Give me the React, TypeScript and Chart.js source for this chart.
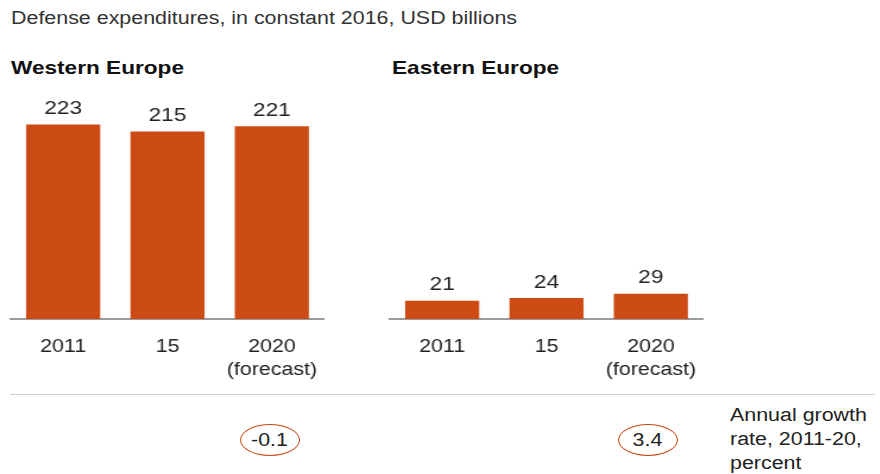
import React, { useEffect, useRef } from "react";
import { Chart, registerables } from "chart.js";

Chart.register(...registerables);

const categories: (string | string[])[] = ["2011", "15", ["2020", "(forecast)"]];
const westernValues = [223, 215, 221];
const easternValues = [21, 24, 29];
const growthWestern = "-0.1";
const growthEastern = "3.4";

const BAR = "#CC4A14";
const FONT = "'Liberation Sans', Arial, sans-serif";
const SX = 1.19; // horizontal stretch of the reference typography
const CSS_W = 340;
const CSS_H = 331;
const INT_W = Math.round(CSS_W / SX);

const valueLabels = {
  id: "valueLabels",
  afterDatasetsDraw(chart: any) {
    const ctx = chart.ctx;
    const meta = chart.getDatasetMeta(0);
    const data = chart.data.datasets[0].data;
    ctx.save();
    ctx.font = `19px ${FONT}`;
    ctx.fillStyle = "#222";
    ctx.textAlign = "center";
    ctx.textBaseline = "bottom";
    meta.data.forEach((bar: any, i: number) => {
      ctx.fillText(String(data[i]), bar.x, bar.y - 6);
    });
    ctx.restore();
  },
};

function BarPanel({ values, left }: { values: number[]; left: number }) {
  const ref = useRef<HTMLCanvasElement>(null);
  useEffect(() => {
    const chart = new Chart(ref.current!, {
      type: "bar",
      data: {
        labels: categories,
        datasets: [
          {
            data: values,
            backgroundColor: BAR,
            categoryPercentage: 1,
            barPercentage: 0.71,
          },
        ],
      },
      options: {
        animation: false,
        responsive: false,
        maintainAspectRatio: false,
        devicePixelRatio: 1,
        layout: { padding: { left: 11 / SX, right: (CSS_W - 324) / SX, top: 21, bottom: 13 } },
        plugins: { legend: { display: false }, tooltip: { enabled: false } },
        scales: {
          y: { display: false, min: 0, max: 250 },
          x: {
            grid: { display: false, drawTicks: false },
            border: { display: true, color: "#9a9a9a", width: 2 },
            ticks: {
              color: "#222",
              font: { family: FONT, size: 18, lineHeight: 1.25 },
              padding: 17,
            },
          },
        },
      },
      plugins: [valueLabels],
    });
    return () => chart.destroy();
  }, []);
  return (
    <canvas
      ref={ref}
      width={INT_W}
      height={CSS_H}
      style={{ position: "absolute", left, top: 80, width: CSS_W, height: CSS_H }}
    />
  );
}

function Stretch({ children, style }: { children: React.ReactNode; style: React.CSSProperties }) {
  return (
    <div
      style={{
        position: "absolute",
        whiteSpace: "nowrap",
        transform: `scaleX(${SX})`,
        transformOrigin: "left top",
        ...style,
      }}
    >
      {children}
    </div>
  );
}

function Circle({ cx, text }: { cx: number; text: string }) {
  return (
    <div
      style={{
        position: "absolute",
        left: cx - 30,
        top: 424,
        width: 60,
        height: 32,
        borderRadius: "50%",
        border: `1px solid ${BAR}`,
        boxSizing: "border-box",
        display: "flex",
        alignItems: "center",
        justifyContent: "center",
        color: "#222",
      }}
    >
      <span style={{ font: `18px ${FONT}`, display: "inline-block", transform: `scaleX(${SX})` }}>{text}</span>
    </div>
  );
}

export default function App() {
  return (
    <div
      style={{
        position: "absolute",
        left: 0,
        top: 0,
        width: 880,
        height: 474,
        background: "#fff",
        fontFamily: FONT,
        overflow: "hidden",
      }}
    >
      <Stretch style={{ left: 11, top: 8, fontSize: 18, color: "#333" }}>
        Defense expenditures, in constant 2016, USD billions
      </Stretch>
      <Stretch style={{ left: 11, top: 57, fontSize: 19, fontWeight: "bold", color: "#111" }}>
        Western Europe
      </Stretch>
      <Stretch style={{ left: 392, top: 57, fontSize: 19, fontWeight: "bold", color: "#111" }}>
        Eastern Europe
      </Stretch>
      <BarPanel values={westernValues} left={0} />
      <BarPanel values={easternValues} left={379} />
      <div style={{ position: "absolute", left: 10, top: 394, width: 865, height: 1, background: "#cfcfcf" }} />
      <Circle cx={270} text={growthWestern} />
      <Circle cx={648} text={growthEastern} />
      <Stretch style={{ left: 730, top: 403, fontSize: 18, lineHeight: "24px", color: "#222" }}>
        Annual growth
        <br />
        rate, 2011-20,
        <br />
        percent
      </Stretch>
    </div>
  );
}
